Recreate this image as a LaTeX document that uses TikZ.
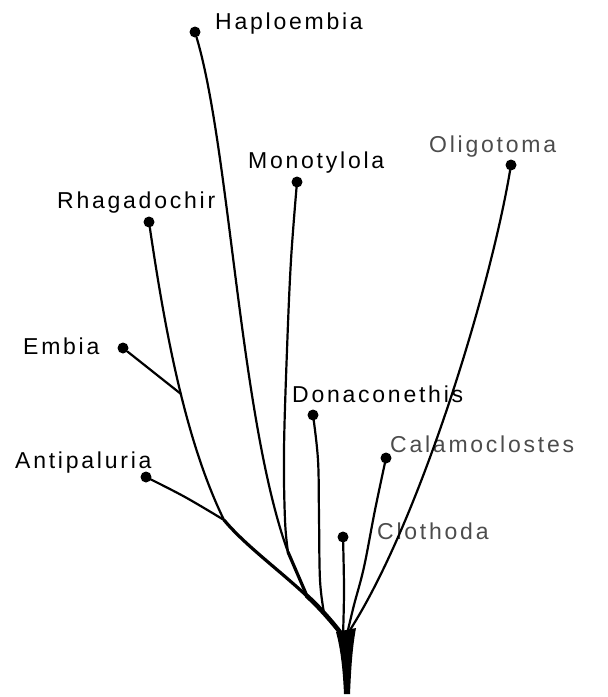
\documentclass[tikz,border=0pt]{standalone}
\usepackage{fontspec}
\setmainfont{Liberation Sans}[LetterSpace=12]
\begin{document}
\begin{tikzpicture}[x=1pt,y=-1pt,
  leaf/.style={circle, fill=black, inner sep=0pt, minimum size=11pt},
  lbl/.style={anchor=base west, inner sep=0pt, font=\fontsize{23}{23}\selectfont},
  lblgray/.style={lbl, text=black!70},
  branch/.style={line width=2.2pt, line cap=round, line join=round},
  thick2/.style={line width=3.2pt, line cap=round, line join=round},
  thick3/.style={line width=4.6pt, line cap=round, line join=round}]
\useasboundingbox (0,0) rectangle (608,697);

% leaf dots
\node[leaf] (dHap) at (195,32) {};
\node[leaf] (dMon) at (297,182) {};
\node[leaf] (dOli) at (511,165) {};
\node[leaf] (dRha) at (149,222) {};
\node[leaf] (dEmb) at (123,348) {};
\node[leaf] (dDon) at (313,415) {};
\node[leaf] (dCal) at (386,458) {};
\node[leaf] (dAnt) at (146,477) {};
\node[leaf] (dClo) at (343,537) {};

% labels
\node[lbl] (lHap) at (215,29) {Haploembia};
\node[lbl] (lMon) at (248,168) {Monotylola};
\node[lblgray] (lOli) at (429,152) {Oligotoma};
\node[lbl] (lRha) at (57,208) {Rhagadochir};
\node[lbl] (lEmb) at (23,354) {Embia};
\node[lbl] (lDon) at (292,402) {Donaconethis};
\node[lblgray] (lCal) at (390,452) {Calamoclostes};
\node[lbl] (lAnt) at (15,468) {Antipaluria};
\node[lblgray] (lClo) at (377,539) {Clothoda};

% junction points
\coordinate (jE) at (181,394);
\coordinate (jA) at (224,520);
\coordinate (jH) at (307,596);
\coordinate (r4) at (324,613);
\coordinate (J) at (343,636);
\coordinate (jM) at (288,552);
\coordinate (jO) at (350,630);
\coordinate (jC) at (348,630);

% Rhagadochir lineage
\draw[branch] (dRha) .. controls (165,330) and (185,440) .. (jA);
\draw[thick2] (jA) .. controls (255,557) and (310,590) .. (J);
\draw[branch] (dEmb) -- (jE);
\draw[branch] plot[smooth, tension=0.6] coordinates {(dAnt) (185,497) (jA)};
% Haploembia
\draw[branch] (dHap) .. controls (230,150) and (240,420) .. (jM);
\draw[thick2] (jM) -- (jH);
% Monotylola
\draw[branch] plot[smooth, tension=0.6] coordinates {(dMon) (291,260) (287,350) (284,450) (285,520) (jM)};
% Donaconethis
\draw[branch] plot[smooth, tension=0.6] coordinates {(dDon) (318,460) (319,517) (320,580) (r4)};
% Clothoda
\draw[branch] plot[smooth, tension=0.6] coordinates {(dClo) (344,590) (J)};
% Calamoclostes
\draw[branch] plot[smooth, tension=0.6] coordinates {(dCal) (375,510) (364,567) (354,605) (jC)};
% Oligotoma
\draw[branch] (dOli) .. controls (490,290) and (420,520) .. (jO);

% thickest lower part
\draw[thick3] (jH) .. controls (316,604) and (331,620) .. (J);

% trunk
\fill (336,632) .. controls (341,650) and (343,672) .. (344,694) -- (350,694) .. controls (351,672) and (352,650) .. (356,628) -- cycle;
\end{tikzpicture}
\end{document}
